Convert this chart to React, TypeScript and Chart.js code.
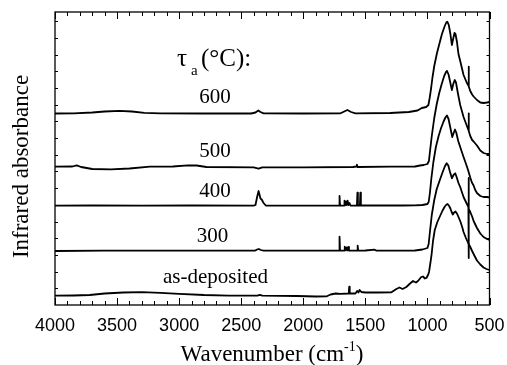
import React, { useEffect, useRef } from "react";
import { Chart, registerables } from "chart.js";

Chart.register(...registerables);

// ---- Data (wavenumber in cm^-1, absorbance in arbitrary stacked units) ----
const WN_600 = [4000, 3850, 3700, 3600, 3480, 3380, 3280, 3150, 2800, 2420, 2385, 2362, 2345, 2320, 2000, 1700, 1670, 1645, 1615, 1580, 1300, 1150, 1080, 1045, 1010, 992, 982, 970, 960, 945, 923, 900, 883, 862, 848, 840, 828, 815, 803, 793, 782, 774, 762, 750, 736, 709, 682, 670, 668, 666, 655, 640, 628, 601, 574, 548, 520, 500];
const A_600 = [1.915, 1.917, 1.925, 1.935, 1.942, 1.935, 1.922, 1.917, 1.915, 1.915, 1.925, 1.945, 1.93, 1.917, 1.915, 1.917, 1.935, 1.95, 1.93, 1.917, 1.92, 1.93, 1.945, 1.97, 1.98, 2.0, 2.07, 2.17, 2.27, 2.39, 2.52, 2.63, 2.71, 2.785, 2.825, 2.833, 2.8, 2.71, 2.6, 2.66, 2.72, 2.71, 2.63, 2.51, 2.44, 2.3, 2.22, 2.195, 2.383, 2.185, 2.14, 2.105, 2.085, 2.05, 2.025, 2.02, 2.025, 2.03];

const WN_500 = [4000, 3860, 3825, 3790, 3700, 3550, 3400, 3235, 3050, 2930, 2860, 2780, 2400, 2360, 2330, 2000, 1600, 1572, 1568, 1564, 1300, 1100, 1060, 1030, 1000, 988, 978, 965, 945, 925, 905, 885, 865, 850, 842, 830, 815, 803, 792, 780, 770, 755, 736, 709, 682, 670, 668, 666, 655, 640, 628, 601, 574, 548, 520, 500];
const A_500 = [1.383, 1.385, 1.397, 1.38, 1.36, 1.357, 1.365, 1.383, 1.385, 1.397, 1.395, 1.38, 1.377, 1.363, 1.377, 1.377, 1.38, 1.385, 1.403, 1.38, 1.383, 1.385, 1.395, 1.4, 1.41, 1.44, 1.55, 1.69, 1.87, 2.01, 2.12, 2.21, 2.29, 2.33, 2.34, 2.305, 2.22, 2.15, 2.21, 2.25, 2.225, 2.12, 2.0, 1.88, 1.79, 1.75, 1.917, 1.74, 1.69, 1.65, 1.635, 1.595, 1.545, 1.52, 1.51, 1.51];

const WN_400 = [4000, 3700, 3300, 2900, 2400, 2385, 2372, 2360, 2352, 2345, 2335, 2320, 2302, 2000, 1712, 1708, 1704, 1672, 1668, 1662, 1655, 1650, 1643, 1636, 1628, 1620, 1568, 1564, 1560, 1544, 1540, 1536, 1520, 1200, 1100, 1040, 1000, 990, 980, 968, 952, 932, 910, 890, 870, 855, 843, 830, 815, 800, 790, 778, 768, 752, 736, 709, 682, 668, 655, 642, 628, 615, 601, 574, 548, 520, 500];
const A_400 = [0.993, 0.995, 0.993, 0.995, 0.993, 1.0, 1.08, 1.14, 1.1, 1.065, 1.055, 1.02, 0.995, 0.993, 0.993, 1.09, 0.993, 0.995, 1.043, 1.0, 1.035, 1.0, 1.043, 1.0, 1.02, 0.995, 0.993, 1.123, 0.995, 0.995, 1.123, 0.995, 0.997, 0.995, 0.997, 1.0, 1.01, 1.03, 1.12, 1.27, 1.43, 1.58, 1.69, 1.77, 1.835, 1.875, 1.895, 1.86, 1.77, 1.68, 1.715, 1.755, 1.725, 1.64, 1.58, 1.48, 1.385, 1.33, 1.275, 1.225, 1.195, 1.15, 1.12, 1.09, 1.08, 1.08, 1.075];

const WN_300 = [4000, 3600, 3000, 2390, 2372, 2358, 2342, 2320, 2000, 1712, 1708, 1704, 1670, 1666, 1662, 1652, 1646, 1638, 1632, 1566, 1562, 1558, 1500, 1425, 1410, 1100, 1040, 1000, 990, 980, 965, 945, 925, 900, 880, 860, 845, 832, 818, 803, 790, 776, 765, 750, 736, 709, 682, 670, 669, 667, 666, 655, 640, 628, 601, 574, 548, 520, 500];
const A_300 = [0.54, 0.543, 0.543, 0.543, 0.555, 0.56, 0.55, 0.543, 0.543, 0.543, 0.683, 0.543, 0.545, 0.583, 0.547, 0.575, 0.545, 0.58, 0.545, 0.543, 0.593, 0.543, 0.545, 0.553, 0.543, 0.545, 0.555, 0.57, 0.61, 0.73, 0.9, 1.05, 1.16, 1.25, 1.32, 1.385, 1.417, 1.395, 1.33, 1.267, 1.3, 1.317, 1.28, 1.22, 1.18, 1.08, 1.01, 0.98, 1.27, 0.47, 0.96, 0.93, 0.885, 0.84, 0.77, 0.715, 0.68, 0.66, 0.65];

const WN_ASDEP = [4000, 3850, 3720, 3600, 3450, 3300, 3150, 3000, 2800, 2600, 2370, 2350, 2330, 2050, 1900, 1810, 1780, 1740, 1700, 1634, 1630, 1626, 1580, 1566, 1556, 1546, 1532, 1500, 1400, 1290, 1250, 1225, 1200, 1170, 1140, 1116, 1092, 1076, 1050, 1036, 1020, 1008, 995, 987, 975, 966, 955, 941, 920, 900, 880, 860, 846, 838, 825, 815, 805, 795, 785, 774, 760, 750, 736, 720, 709, 690, 668, 655, 640, 620, 601, 574, 548, 525, 500];
const A_ASDEP = [0.093, 0.095, 0.1, 0.115, 0.125, 0.128, 0.122, 0.112, 0.1, 0.094, 0.093, 0.102, 0.093, 0.09, 0.085, 0.087, 0.105, 0.115, 0.112, 0.115, 0.183, 0.115, 0.115, 0.14, 0.125, 0.15, 0.13, 0.125, 0.125, 0.127, 0.16, 0.175, 0.16, 0.18, 0.215, 0.24, 0.225, 0.24, 0.28, 0.285, 0.265, 0.27, 0.3, 0.33, 0.43, 0.51, 0.64, 0.75, 0.83, 0.885, 0.94, 0.985, 1.005, 1.01, 0.99, 0.965, 0.93, 0.905, 0.925, 0.935, 0.91, 0.88, 0.84, 0.78, 0.73, 0.67, 0.61, 0.58, 0.54, 0.49, 0.445, 0.405, 0.375, 0.36, 0.35];

const SERIES_NAMES = ["600", "500", "400", "300", "as-deposited"];
const X_LABEL_TICKS = [4000, 3500, 3000, 2500, 2000, 1500, 1000, 500];
const X_MINOR_STEP = 100;
const Y_MINOR_STEP = 0.167;

const SERIF = "'Liberation Serif', 'Times New Roman', serif";
const SANS = "'Liberation Sans', Arial, sans-serif";

export default function App() {
  const ref = useRef<HTMLCanvasElement>(null);

  useEffect(() => {
    document.body.style.margin = "0";
    const canvas = ref.current;
    if (!canvas) return;

    const toPts = (xs: number[], ys: number[]) => xs.map((x, i) => ({ x, y: ys[i] }));
    const seriesData = [
      toPts(WN_600, A_600),
      toPts(WN_500, A_500),
      toPts(WN_400, A_400),
      toPts(WN_300, A_300),
      toPts(WN_ASDEP, A_ASDEP),
    ];

    const decor = {
      id: "decor",
      afterDraw(chart: any) {
        const ctx = chart.ctx as CanvasRenderingContext2D;
        const { left, right, top, bottom } = chart.chartArea;
        const xs = chart.scales.x;
        const ys = chart.scales.y;
        ctx.save();
        ctx.strokeStyle = "#000";
        ctx.fillStyle = "#000";
        ctx.lineWidth = 1;
        ctx.beginPath();
        for (let v = 500; v <= 4000; v += X_MINOR_STEP) {
          const px = Math.round(xs.getPixelForValue(v)) + 0.5;
          const len = v % 500 === 0 ? 7 : 4;
          ctx.moveTo(px, bottom);
          ctx.lineTo(px, bottom - len);
          ctx.moveTo(px, top);
          ctx.lineTo(px, top + len);
        }
        for (let v = Y_MINOR_STEP; v < ys.max; v += Y_MINOR_STEP) {
          const py = Math.round(ys.getPixelForValue(v)) + 0.5;
          ctx.moveTo(left, py);
          ctx.lineTo(left + 3, py);
          ctx.moveTo(right, py);
          ctx.lineTo(right - 3, py);
        }
        ctx.stroke();
        ctx.lineWidth = 1.3;
        ctx.strokeRect(left, top, right - left, bottom - top);

        // Axis titles
        ctx.textBaseline = "alphabetic";
        ctx.save();
        ctx.translate(27.5, (top + bottom) / 2 + 8);
        ctx.rotate(-Math.PI / 2);
        ctx.font = `23px ${SERIF}`;
        ctx.textAlign = "center";
        ctx.fillText("Infrared absorbance", 0, 0);
        ctx.restore();

        const mainFont = `23px ${SERIF}`;
        const supFont = `14px ${SERIF}`;
        ctx.textAlign = "left";
        ctx.font = mainFont;
        const t1 = "Wavenumber (cm";
        const t3 = ")";
        const w1 = ctx.measureText(t1).width;
        const w3 = ctx.measureText(t3).width;
        ctx.font = supFont;
        const t2 = "-1";
        const w2 = ctx.measureText(t2).width;
        const total = w1 + w2 + w3;
        const x0 = 272 - total / 2;
        const base = 361;
        ctx.font = mainFont;
        ctx.fillText(t1, x0, base);
        ctx.font = supFont;
        ctx.fillText(t2, x0 + w1, base - 10);
        ctx.font = mainFont;
        ctx.fillText(t3, x0 + w1 + w2, base);

        // Annotations
        ctx.font = `25px ${SERIF}`;
        ctx.fillText("\u03c4", 177, 66);
        ctx.font = `15px ${SERIF}`;
        ctx.fillText("a", 191, 75);
        ctx.font = `25px ${SERIF}`;
        ctx.fillText("(\u00b0C):", 201, 66);

        ctx.font = `21px ${SERIF}`;
        ctx.textAlign = "center";
        const labelPos: [number, number][] = [
          [215, 103],
          [215, 157],
          [215, 197],
          [212.5, 242],
          [215.5, 283],
        ];
        SERIES_NAMES.forEach((name, i) => {
          ctx.fillText(name, labelPos[i][0], labelPos[i][1]);
        });
        ctx.restore();
      },
    };

    const chart = new Chart(canvas, {
      type: "line",
      data: {
        datasets: seriesData.map((d, i) => ({
          label: SERIES_NAMES[i],
          data: d,
          borderColor: "#000",
          backgroundColor: "#000",
          borderWidth: 1.8,
          pointRadius: 0,
          tension: 0,
          fill: false,
          borderJoinStyle: "round" as const,
          borderCapStyle: "round" as const,
        })),
      },
      options: {
        animation: false,
        responsive: false,
        devicePixelRatio: 1,
        layout: { padding: { top: 12, right: 17.5, left: 0, bottom: 0 } },
        plugins: { legend: { display: false }, tooltip: { enabled: false } },
        scales: {
          x: {
            type: "linear",
            reverse: true,
            min: 500,
            max: 4000,
            afterFit: (s: any) => {
              s.height = 60;
              s.paddingLeft = 0;
              s.paddingRight = 0;
            },
            afterBuildTicks: (s: any) => {
              s.ticks = X_LABEL_TICKS.map((v) => ({ value: v }));
            },
            grid: { display: false, drawTicks: false },
            border: { display: false },
            ticks: {
              autoSkip: false,
              maxRotation: 0,
              padding: 10,
              color: "#000",
              font: { family: SANS, size: 18 },
              callback: (v: any) => String(v),
            },
          },
          y: {
            type: "linear",
            min: 0,
            max: 2.93,
            afterFit: (s: any) => {
              s.width = 55;
              s.paddingTop = 0;
              s.paddingBottom = 0;
            },
            grid: { display: false, drawTicks: false },
            border: { display: false },
            ticks: { display: false },
          },
        },
      },
      plugins: [decor],
    });

    return () => chart.destroy();
  }, []);

  return (
    <div style={{ width: 507, height: 365, background: "#fff" }}>
      <canvas ref={ref} width={507} height={365} style={{ display: "block" }} />
    </div>
  );
}
